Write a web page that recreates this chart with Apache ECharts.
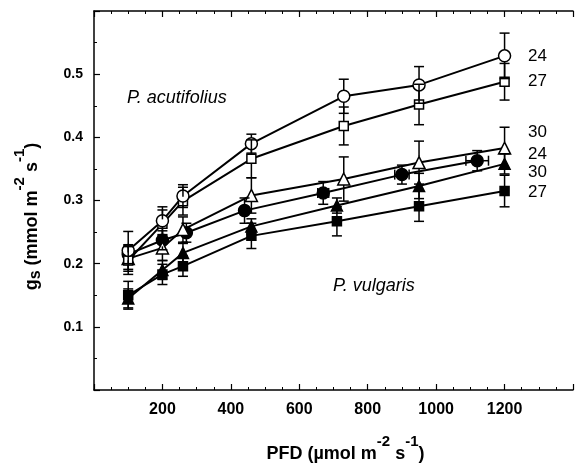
<!DOCTYPE html>
<html><head><meta charset="utf-8">
<script src="https://cdn.jsdelivr.net/npm/echarts@6/dist/echarts.min.js"></script>
<style>html,body{margin:0;padding:0;background:#fff}#c{width:576px;height:468px}</style>
</head><body><div id="c"></div>
<script>
// ---- data ----
const xTicks = [200, 400, 600, 800, 1000, 1200];
const yTicks = [0.1, 0.2, 0.3, 0.4, 0.5];

const pfdA = [100, 200, 260, 460, 730, 950, 1200];
const pfdV = [100, 200, 260, 460, 710, 950, 1200];
const pfdV24 = [100, 200, 270, 440, 670, 900, 1120];
const pfdV24Err = [0, 0, 0, 10, 16, 21, 33];

const acu24 = [0.221, 0.268, 0.307, 0.390, 0.465, 0.483, 0.529];
const acu24Err = [0.030, 0.022, 0.018, 0.015, 0.027, 0.029, 0.036];
const acu27 = [0.205, 0.263, 0.299, 0.366, 0.418, 0.452, 0.488];
const acu27Err = [0.022, 0.022, 0.022, 0.030, 0.030, 0.032, 0.029];
const acu30 = [0.208, 0.225, 0.254, 0.308, 0.334, 0.360, 0.383];
const acu30Err = [0.020, 0.020, 0.020, 0.028, 0.035, 0.034, 0.033];

const vul24 = [0.215, 0.237, 0.249, 0.284, 0.312, 0.341, 0.363];
const vul24Err = [0.015, 0.015, 0.015, 0.020, 0.018, 0.015, 0.016];
const vul30 = [0.145, 0.190, 0.217, 0.259, 0.292, 0.323, 0.358];
const vul30Err = [0.015, 0.015, 0.015, 0.012, 0.012, 0.020, 0.016];
const vul27 = [0.150, 0.183, 0.196, 0.244, 0.267, 0.291, 0.315];
const vul27Err = [0.022, 0.016, 0.016, 0.020, 0.023, 0.024, 0.025];

const endLabels = ['24', '27', '30', '24', '30', '27'];
const speciesLabels = ['P. acutifolius', 'P. vulgaris'];

// ---- styling / build ----
const FONT = 'Liberation Sans, Arial, Helvetica, sans-serif';
const groups = [
  {x: pfdV24, y: vul24, err: vul24Err, xerr: pfdV24Err, symbol: 'circle', size: 12, filled: true},
  {x: pfdV, y: vul27, err: vul27Err, symbol: 'rect', size: 9, filled: true},
  {x: pfdV, y: vul30, err: vul30Err, symbol: 'triangle', size: 11, filled: true},
  {x: pfdA, y: acu30, err: acu30Err, symbol: 'triangle', size: 12, filled: false},
  {x: pfdA, y: acu27, err: acu27Err, symbol: 'rect', size: 9, filled: false},
  {x: pfdA, y: acu24, err: acu24Err, symbol: 'circle', size: 12, filled: false}
];

function seg(x1, y1, x2, y2) {
  return {type: 'line', shape: {x1, y1, x2, y2}, style: {stroke: '#000', lineWidth: 1.5, fill: null}};
}

const series = [];
groups.forEach(g => {
  series.push({
    type: 'line', z: 2,
    data: g.x.map((x, i) => [x, g.y[i]]),
    symbol: g.symbol, symbolSize: g.size, showAllSymbol: true,
    lineStyle: {color: '#000', width: 2},
    itemStyle: {color: g.filled ? '#000' : '#fff', borderColor: '#000', borderWidth: 1.5},
    emphasis: {disabled: true}
  });
});
groups.forEach(g => {
  series.push({
    type: 'custom', z: 5,
    data: g.x.map((x, i) => [x, g.y[i], g.err[i], g.xerr ? g.xerr[i] : 0]),
    renderItem: (params, api) => {
      const x = api.value(0), y = api.value(1), e = api.value(2), xe = api.value(3);
      const c = api.coord([x, y]);
      const t = api.coord([x, y + e]);
      const b = api.coord([x, y - e]);
      const h = g.size / 2, cw = 5;
      const ch = [];
      if (c[1] - h > t[1]) ch.push(seg(c[0], t[1], c[0], c[1] - h));
      ch.push(seg(c[0] - cw, t[1], c[0] + cw, t[1]));
      if (b[1] > c[1] + h) ch.push(seg(c[0], c[1] + h, c[0], b[1]));
      ch.push(seg(c[0] - cw, b[1], c[0] + cw, b[1]));
      if (xe > 0) {
        const l = api.coord([x - xe, y]), r = api.coord([x + xe, y]);
        if (c[0] - h > l[0]) ch.push(seg(l[0], c[1], c[0] - h, c[1]));
        ch.push(seg(l[0], c[1] - cw, l[0], c[1] + cw));
        if (r[0] > c[0] + h) ch.push(seg(c[0] + h, c[1], r[0], c[1]));
        ch.push(seg(r[0], c[1] - cw, r[0], c[1] + cw));
      }
      return {type: 'group', children: ch};
    }
  });
});

const nameRich = {
  n: {fontSize: 18, fontWeight: 'bold', fontFamily: FONT, color: '#000', verticalAlign: 'bottom', padding: [0, 0, 3, 0]},
  sub: {fontSize: 16, fontWeight: 'bold', fontFamily: FONT, color: '#000', verticalAlign: 'bottom'},
  sup: {fontSize: 15, fontWeight: 'bold', fontFamily: FONT, color: '#000', verticalAlign: 'bottom', padding: [0, 0, 17, 0]}
};

const axisCommon = {
  type: 'value',
  axisLine: {show: true, lineStyle: {color: '#000', width: 1.5}},
  axisTick: {show: true, inside: true, length: 6, lineStyle: {color: '#000', width: 1.2}},
  minorTick: {show: true, length: 3, lineStyle: {color: '#000', width: 1}},
  splitLine: {show: false},
  minorSplitLine: {show: false}
};

const labelX = v => xTicks.indexOf(v) >= 0 ? String(v) : '';
const labelY = v => yTicks.some(t => Math.abs(t - v) < 1e-9) ? v.toFixed(1) : '';

const option = {
  animation: false,
  backgroundColor: '#fff',
  grid: {left: 94, top: 11, bottom: 77, right: -3, containLabel: false},
  xAxis: [
    Object.assign({}, axisCommon, {
      position: 'bottom', min: 0, max: 1400, interval: 200,
      minorTick: Object.assign({}, axisCommon.minorTick, {splitNumber: 4}),
      axisLabel: {formatter: labelX, fontSize: 16, fontWeight: 'bold', fontFamily: FONT, color: '#000', margin: 12},
      name: '{n|PFD (µmol m}{sup|-2}{n| s}{sup|-1}{n|)}',
      nameLocation: 'middle', nameGap: 44,
      nameTextStyle: {rich: nameRich, padding: [0, 0, 0, 24]}
    }),
    Object.assign({}, axisCommon, {
      position: 'top', min: 0, max: 1400, interval: 200,
      minorTick: Object.assign({}, axisCommon.minorTick, {splitNumber: 4}),
      axisLabel: {show: false}
    })
  ],
  yAxis: [
    Object.assign({}, axisCommon, {
      position: 'left', min: 0, max: 0.6, interval: 0.1,
      minorTick: Object.assign({}, axisCommon.minorTick, {splitNumber: 2}),
      axisLabel: {formatter: labelY, fontSize: 14, fontWeight: 'bold', fontFamily: FONT, color: '#000', margin: 11},
      name: '{n|g}{sub|s}{n| (mmol m}{sup|-2}{n| s}{sup|-1}{n|)}',
      nameLocation: 'middle', nameGap: 50, nameRotate: 90,
      nameTextStyle: {rich: nameRich, padding: [0, 32, 0, 0]}
    })
  ],
  series: series,
  graphic: [
    {type: 'text', left: 127, top: 89, style: {text: speciesLabels[0], font: 'italic 18px ' + FONT, fill: '#000'}},
    {type: 'text', left: 333, top: 277, style: {text: speciesLabels[1], font: 'italic 18px ' + FONT, fill: '#000'}},
    {type: 'text', left: 528, top: 48, style: {text: endLabels[0], font: '17px ' + FONT, fill: '#000'}},
    {type: 'text', left: 528, top: 73, style: {text: endLabels[1], font: '17px ' + FONT, fill: '#000'}},
    {type: 'text', left: 528, top: 124, style: {text: endLabels[2], font: '17px ' + FONT, fill: '#000'}},
    {type: 'text', left: 528, top: 146, style: {text: endLabels[3], font: '17px ' + FONT, fill: '#000'}},
    {type: 'text', left: 528, top: 164, style: {text: endLabels[4], font: '17px ' + FONT, fill: '#000'}},
    {type: 'text', left: 528, top: 184, style: {text: endLabels[5], font: '17px ' + FONT, fill: '#000'}}
  ]
};
echarts.init(document.getElementById('c')).setOption(option);
</script>
</body></html>
